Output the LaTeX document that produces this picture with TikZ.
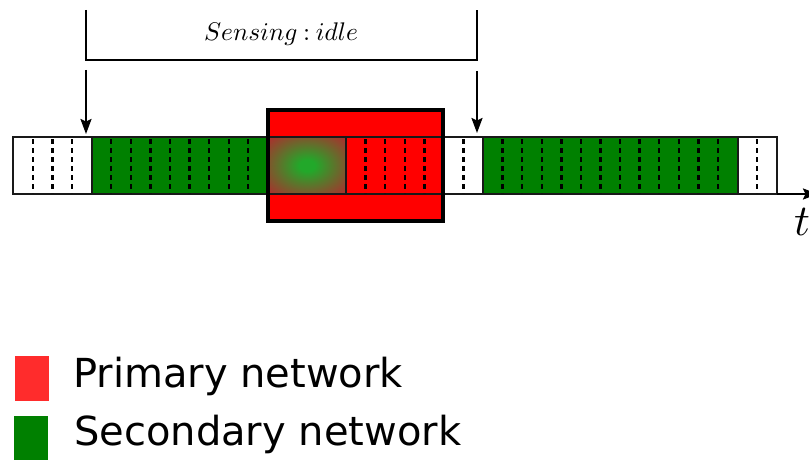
\documentclass[tikz,border=0pt]{standalone}
\usepackage{fontspec}
\newfontfamily\legendfont{DejaVu Sans}
\usetikzlibrary{arrows.meta}

\definecolor{slotgreen}{RGB}{0,128,0}
\definecolor{slotred}{RGB}{255,0,0}
\definecolor{keyred}{RGB}{255,44,44}
\definecolor{glowin}{RGB}{34,168,42}
\definecolor{glowout}{RGB}{188,32,46}
\pgfdeclareradialshading{busyglow}{\pgfpoint{0bp}{0bp}}%
  {color(0bp)=(glowin); color(5bp)=(glowin); color(38bp)=(glowout); color(100bp)=(glowout)}

\begin{document}
\begin{tikzpicture}[x=1pt,y=-1pt,
  slot/.style={draw=black!90, line width=2.3pt, anchor=north west, inner sep=0pt,
    outer sep=0pt, minimum height=57pt},
  tick/.style={line width=2.4pt, dash pattern=on 5pt off 4pt},
  pointer/.style={line width=2pt, -{Stealth[length=15pt,width=11pt,inset=2.5pt]}},
  key/.style={anchor=north west, inner sep=0pt, outer sep=0pt, minimum width=34pt},
  keytext/.style={anchor=base west, inner sep=0pt,
    font=\legendfont\fontsize{40}{46}\selectfont}]
\useasboundingbox (0,0) rectangle (809,460);

% busy period of the primary network
\node[anchor=north west, inner sep=0pt, outer sep=0pt, minimum width=175pt,
  minimum height=111pt, fill=slotred] (busy) at (268,110) {};

% time slots along the axis
\node[slot, fill=white,      minimum width=79pt]  (w1) at (13,137) {};
\node[slot, fill=slotgreen,  minimum width=176pt] (g1) at (92,137) {};
\node[slot, shading=busyglow, minimum width=78pt] (mix) at (268,137) {};
\node[slot, fill=slotred,    minimum width=97pt]  (r1) at (346,137) {};
\node[slot, fill=white,      minimum width=40pt]  (w2) at (443,137) {};
\node[slot, fill=slotgreen,  minimum width=255pt] (g2) at (483,137) {};
\node[slot, fill=white,      minimum width=39pt]  (w3) at (738,137) {};

\draw[line width=3.6pt] (busy.north west) rectangle (busy.south east);

% slot subdivisions
\foreach \k in {0,1,2,4,5,6,7,8,9,10,11,17,18,19,20,22,24,25,26,27,28,29,30,31,32,33,34,35,37}
  \draw[tick] ({33+19.57*\k},139) -- ({33+19.57*\k},193);

% time axis
\coordinate (tend) at (818,194);
\draw[pointer] (w3.south east) -- (tend);
\node[anchor=base west, inner sep=0pt] (tlab) at (794,235) {\scalebox{4.4}{$t$}};

% sensing window
\coordinate (b1) at (86,10);
\coordinate (b2) at (477,10);
\draw[line width=2pt] (b1) |- (477,60) -- (b2);
\node[anchor=base, inner sep=0pt] (sense) at (281,41)
  {\scalebox{2.55}{$Sensing\:{:}\:idle$}};

\coordinate (p1) at (86,70);
\coordinate (p2) at (477,71);
\draw[pointer, shorten >=3pt] (p1) -- (p1 |- w1.north);
\draw[pointer, shorten >=4pt] (p2) -- (p2 |- w2.north);

% legend
\node[key, fill=keyred, minimum height=45pt]    (kp) at (15,356) {};
\node[key, fill=slotgreen, minimum height=45pt] (ks) at (14,416) {};
\node[keytext] (lp) at (73,387) {Primary network};
\node[keytext] (ls) at (74,445) {Secondary network};
\end{tikzpicture}
\end{document}
